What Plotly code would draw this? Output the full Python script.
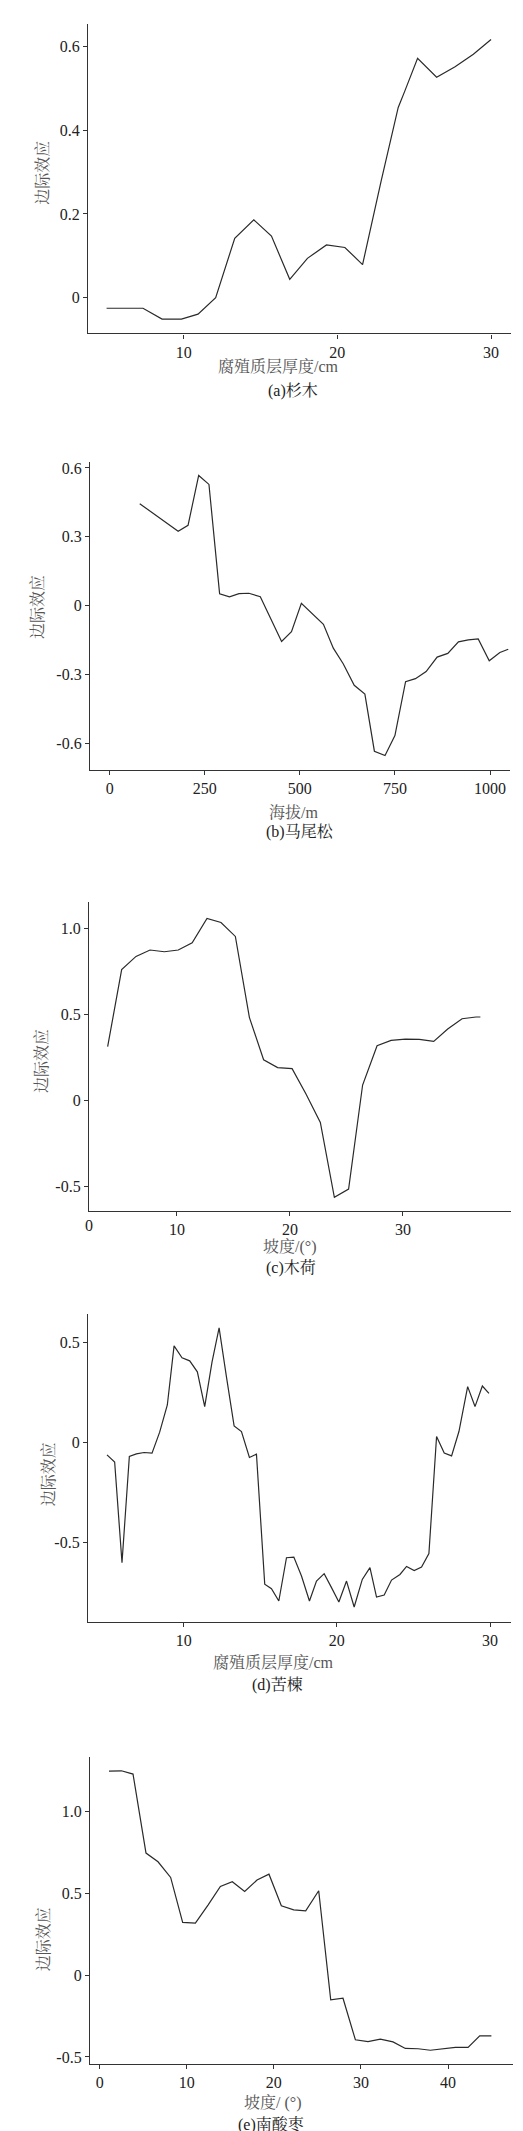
import plotly.graph_objects as go

W, H = 523, 2131

# ---------------- data ----------------
# (a) 杉木 — 腐殖质层厚度/cm
a_x = [4.98, 7.35, 8.59, 9.85, 10.93, 12.08, 13.32, 14.56, 15.71, 16.9, 18.05,
       19.29, 20.49, 21.64, 22.85, 23.96, 24.4, 25.22, 26.46, 27.66, 28.85, 30.0]
a_y = [-0.025, -0.025, -0.051, -0.051, -0.039, 0.0, 0.142, 0.186, 0.147, 0.044, 0.094,
       0.126, 0.12, 0.079, 0.279, 0.454, 0.494, 0.571, 0.526, 0.551, 0.581, 0.616]

# (b) 马尾松 — 海拔/m
b_x = [79, 180, 206, 234, 261, 289, 315, 340, 366, 396, 452, 478, 504, 532, 562, 588,
       614, 643, 671, 696, 724, 750, 778, 804, 832, 861, 889, 917, 943, 969, 998, 1026, 1048]
b_y = [0.444, 0.324, 0.350, 0.567, 0.528, 0.052, 0.038, 0.052, 0.054, 0.039, -0.156,
       -0.113, 0.010, -0.036, -0.081, -0.185, -0.253, -0.347, -0.385, -0.634, -0.653,
       -0.566, -0.331, -0.318, -0.287, -0.224, -0.208, -0.158, -0.149, -0.145, -0.240,
       -0.204, -0.190]

# (c) 木荷 — 坡度/(°)
c_x = [3.87, 5.11, 6.38, 7.62, 8.88, 10.12, 11.35, 12.66, 13.90, 15.17, 16.41, 17.67,
       18.91, 20.19, 21.42, 22.69, 23.93, 25.19, 26.43, 27.71, 28.95, 30.21, 31.45,
       32.72, 33.96, 35.23, 36.47, 36.85]
c_y = [0.314, 0.761, 0.838, 0.875, 0.865, 0.875, 0.917, 1.059, 1.035, 0.954, 0.484,
       0.238, 0.192, 0.186, 0.039, -0.126, -0.561, -0.513, 0.091, 0.319, 0.350, 0.358,
       0.356, 0.344, 0.416, 0.476, 0.486, 0.486]

# (d) 苦楝 — 腐殖质层厚度/cm
d_x = [4.99, 5.49, 5.97, 6.45, 6.91, 7.41, 7.93, 8.43, 8.93, 9.37, 9.89, 10.39, 10.89,
       11.37, 11.85, 12.31, 12.79, 13.29, 13.77, 14.29, 14.75, 15.29, 15.73, 16.21,
       16.71, 17.19, 17.69, 18.21, 18.67, 19.17, 19.65, 20.13, 20.63, 21.13, 21.66,
       22.16, 22.59, 23.09, 23.57, 24.12, 24.55, 25.05, 25.53, 26.01, 26.51, 27.01,
       27.49, 27.97, 28.54, 29.02, 29.50, 29.93]
d_y = [-0.062, -0.098, -0.602, -0.070, -0.057, -0.050, -0.053, 0.052, 0.188, 0.484,
       0.424, 0.409, 0.354, 0.180, 0.404, 0.574, 0.329, 0.083, 0.055, -0.075, -0.058,
       -0.710, -0.732, -0.794, -0.577, -0.574, -0.669, -0.794, -0.694, -0.657, -0.727,
       -0.799, -0.694, -0.824, -0.686, -0.627, -0.774, -0.764, -0.689, -0.661, -0.621,
       -0.641, -0.624, -0.556, 0.030, -0.053, -0.067, 0.055, 0.280, 0.180, 0.283, 0.246]

# (e) 南酸枣 — 坡度/(°)
e_x = [1.07, 2.49, 3.83, 5.32, 6.70, 8.15, 9.53, 10.99, 12.44, 13.86, 15.23, 16.65,
       18.07, 19.44, 20.86, 22.28, 23.66, 25.15, 26.53, 27.94, 29.36, 30.81, 32.23,
       33.68, 35.10, 36.56, 37.97, 39.39, 40.84, 42.30, 43.64, 44.98]
e_y = [1.247, 1.249, 1.229, 0.746, 0.693, 0.597, 0.322, 0.318, 0.428, 0.542, 0.571,
       0.512, 0.581, 0.617, 0.424, 0.399, 0.393, 0.516, -0.151, -0.141, -0.395, -0.406,
       -0.391, -0.408, -0.448, -0.450, -0.459, -0.452, -0.442, -0.442, -0.371, -0.371]

# tick labels
a_xticks = [10, 20, 30]
a_yticks = [0, 0.2, 0.4, 0.6]
a_ytext = ["0", "0.2", "0.4", "0.6"]
b_xticks = [0, 250, 500, 750, 1000]
b_yticks = [-0.6, -0.3, 0, 0.3, 0.6]
b_ytext = ["-0.6", "-0.3", "0", "0.3", "0.6"]
c_xticks = [10, 20, 30]
c_yticks = [-0.5, 0, 0.5, 1.0]
c_ytext = ["-0.5", "0", "0.5", "1.0"]
d_xticks = [10, 20, 30]
d_yticks = [-0.5, 0, 0.5]
d_ytext = ["-0.5", "0", "0.5"]
e_xticks = [0, 10, 20, 30, 40]
e_yticks = [-0.5, 0, 0.5, 1.0]
e_ytext = ["-0.5", "0", "0.5", "1.0"]

x_titles = ["腐殖质层厚度/cm", "海拔/m", "坡度/(°)", "腐殖质层厚度/cm", "坡度/ (°)"]
captions = ["(a)杉木", "(b)马尾松", "(c)木荷", "(d)苦楝", "(e)南酸枣"]
y_title = "边际效应"

# ---------------- layout geometry (pixels) ----------------
panels = [
    dict(x=a_x, y=a_y, xt=a_xticks, yt=a_yticks, ytt=a_ytext,
         px=(80, 503), py=(13, 323), xr=(3.77, 31.3), yr=(-0.085, 0.653),
         xtitle=(270, 356), cap=(285, 381), ytitle=(35, 162)),
    dict(x=b_x, y=b_y, xt=b_xticks, yt=b_yticks, ytt=b_ytext,
         px=(82, 502), py=(452, 760), xr=(-51.8, 1052.6), yr=(-0.714, 0.625),
         xtitle=(285, 803), cap=(292, 823), ytitle=(30, 597)),
    dict(x=c_x, y=c_y, xt=c_xticks, yt=c_yticks, ytt=c_ytext,
         px=(81, 503), py=(893, 1202), xr=(2.22, 39.56), yr=(-0.639, 1.152),
         xtitle=(282, 1238), cap=(283, 1259), ytitle=(33, 1052)),
    dict(x=d_x, y=d_y, xt=d_xticks, yt=d_yticks, ytt=d_ytext,
         px=(80, 503), py=(1305, 1614), xr=(3.75, 31.37), yr=(-0.899, 0.646),
         xtitle=(265, 1655), cap=(269, 1677), ytitle=(40, 1466)),
    dict(x=e_x, y=e_y, xt=e_xticks, yt=e_yticks, ytt=e_ytext,
         px=(82, 505), py=(1749, 2057), xr=(-1.11, 47.46), yr=(-0.544, 1.335),
         xtitle=(265, 2096), cap=(263, 2117), ytitle=(35, 1932)),
]

FONT = "Liberation Serif, Times New Roman, Noto Serif CJK SC, Noto Sans CJK SC, serif"
AX = "#333333"

fig = go.Figure()
annotations = []
layout = dict(
    width=W, height=H, margin=dict(l=0, r=0, t=0, b=0),
    paper_bgcolor="white", plot_bgcolor="white", showlegend=False,
    font=dict(family=FONT, size=16, color="#222222"),
)

def px2x(p):
    return p / W

def px2y(p):
    return 1 - p / H

for i, p in enumerate(panels):
    n = "" if i == 0 else str(i + 1)
    fig.add_trace(go.Scatter(x=p["x"], y=p["y"], mode="lines",
                             line=dict(color="#2a2a2a", width=1.2),
                             xaxis="x" + n, yaxis="y" + n, hoverinfo="skip"))
    common = dict(showline=True, linecolor=AX, linewidth=1.3, ticks="outside",
                  ticklen=4, tickwidth=1, tickcolor=AX, showgrid=False,
                  zeroline=False, tickfont=dict(family=FONT, size=16, color="#222222"))
    layout["xaxis" + n] = dict(
        domain=[px2x(p["px"][0]), px2x(p["px"][1])], range=list(p["xr"]),
        anchor="y" + n, tickmode="array", tickvals=p["xt"],
        ticktext=[str(v) for v in p["xt"]], **common)
    layout["yaxis" + n] = dict(
        domain=[px2y(p["py"][1]), px2y(p["py"][0])], range=list(p["yr"]),
        anchor="x" + n, tickmode="array", tickvals=p["yt"], ticktext=p["ytt"],
        **common)
    annotations.append(dict(text=x_titles[i], xref="paper", yref="paper",
                            x=px2x(p["xtitle"][0]), y=px2y(p["xtitle"][1]),
                            xanchor="center", yanchor="middle", showarrow=False,
                            font=dict(family=FONT, size=16, color="#555555")))
    annotations.append(dict(text=captions[i], xref="paper", yref="paper",
                            x=px2x(p["cap"][0]), y=px2y(p["cap"][1]),
                            xanchor="center", yanchor="middle", showarrow=False,
                            font=dict(family=FONT, size=16, color="#222222")))
    annotations.append(dict(text=y_title, xref="paper", yref="paper",
                            x=px2x(p["ytitle"][0]), y=px2y(p["ytitle"][1]),
                            xanchor="center", yanchor="middle", showarrow=False,
                            textangle=-90,
                            font=dict(family=FONT, size=16, color="#555555")))

# panel (c): the reference prints a "0" label at the left end of its x axis
pc = panels[2]
annotations.append(dict(text="0", xref="x3", yref="paper", x=pc["xr"][0],
                        y=px2y(pc["py"][1] + 15), xanchor="center", yanchor="middle",
                        showarrow=False, font=dict(family=FONT, size=16, color="#222222")))

layout["annotations"] = annotations
fig.update_layout(**layout)
fig.write_html("out.html")
